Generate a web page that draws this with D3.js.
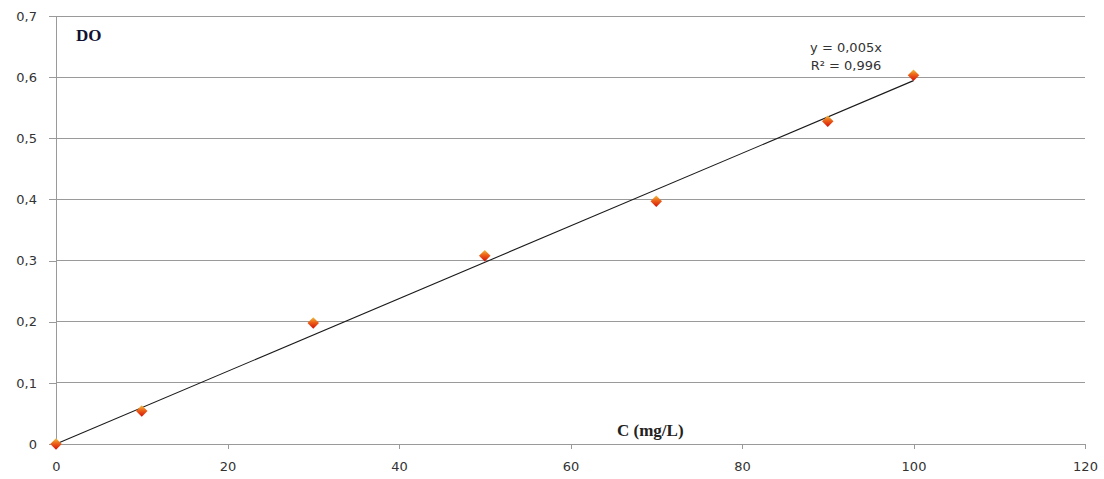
<!DOCTYPE html>
<html><head><meta charset="utf-8">
<script src="https://cdn.jsdelivr.net/npm/d3@7"></script>
<style>body{margin:0;background:#fff;}svg{display:block;}</style>
</head><body>
<svg id="c" width="1104" height="479"></svg>
<script>
const concentrations = [0, 10, 30, 50, 70, 90, 100];
const doValues = [0, 0.054, 0.198, 0.308, 0.397, 0.528, 0.603];
const xTicks = [0, 20, 40, 60, 80, 100, 120];
const yTicks = [0, 0.1, 0.2, 0.3, 0.4, 0.5, 0.6, 0.7];
const equationLines = ["y = 0,005x", "R² = 0,996"];
const yLabel = "DO";
const xLabel = "C (mg/L)";

const svg = d3.select("#c");
const x = d3.scaleLinear().domain([0, 120]).range([56, 1085]);
const y = d3.scaleLinear().domain([0, 0.7]).range([444, 16]);
const fmt = d => String(d).replace(".", ",");
const font = "Verdana, 'DejaVu Sans', sans-serif";

// gridlines
svg.append("g").selectAll("line").data(yTicks.filter(d => d > 0)).join("line")
  .attr("x1", x(0)).attr("x2", x(120)).attr("y1", d => y(d)).attr("y2", d => y(d))
  .attr("stroke", "#9a9a9a").attr("stroke-width", 1).attr("shape-rendering", "crispEdges");

// y axis
const yAxis = svg.append("g").attr("transform", `translate(${x(0)},0)`)
  .call(d3.axisLeft(y).tickValues(yTicks).tickFormat(fmt).tickSize(7).tickPadding(12));
// x axis
const xAxis = svg.append("g").attr("transform", `translate(0,${y(0)})`)
  .call(d3.axisBottom(x).tickValues(xTicks).tickSize(5).tickPadding(13));
[yAxis, xAxis].forEach(a => {
  a.select(".domain").attr("stroke", "#9a9a9a").attr("shape-rendering", "crispEdges");
  a.selectAll(".tick line").attr("stroke", "#9a9a9a").attr("shape-rendering", "crispEdges");
  a.selectAll("text").attr("fill", "#333").style("font-family", font).style("font-size", "13px");
});
xAxis.select(".domain").attr("d", `M${x(0)},0.5H${x(120)}V5`);

// trendline (least squares through origin)
const slope = d3.sum(concentrations, (c, i) => c * doValues[i]) / d3.sum(concentrations, c => c * c);
svg.append("line")
  .attr("x1", x(0)).attr("y1", y(0))
  .attr("x2", x(d3.max(concentrations))).attr("y2", y(slope * d3.max(concentrations)))
  .attr("stroke", "#1a1a1a").attr("stroke-width", 1.1);

// gradient
const defs = svg.append("defs");
const g = defs.append("linearGradient").attr("id", "dg").attr("x1", "0").attr("y1", "0").attr("x2", "0").attr("y2", "1");
g.append("stop").attr("offset", "0%").attr("stop-color", "#f0c040");
g.append("stop").attr("offset", "40%").attr("stop-color", "#ee6a1a");
g.append("stop").attr("offset", "100%").attr("stop-color", "#d40f08");

// markers
svg.append("g").selectAll("path").data(concentrations).join("path")
  .attr("d", d3.symbol().type(d3.symbolDiamond2 || d3.symbolDiamond).size(85))
  .attr("transform", (c, i) => `translate(${x(c)},${y(doValues[i])})`)
  .attr("fill", "url(#dg)");

// labels
svg.append("text").attr("x", 76).attr("y", 41).text(yLabel)
  .style("font-family", "'Liberation Serif', 'Times New Roman', serif").style("font-weight", "bold")
  .style("font-size", "17px").attr("fill", "#111133");
svg.append("text").attr("x", 617).attr("y", 436).text(xLabel)
  .style("font-family", "'Liberation Serif', 'Times New Roman', serif").style("font-weight", "bold")
  .style("font-size", "17px").attr("fill", "#222");
svg.append("g").selectAll("text").data(equationLines).join("text")
  .attr("x", 846).attr("y", (d, i) => 52 + i * 18).attr("text-anchor", "middle")
  .text(d => d).style("font-family", font).style("font-size", "13px").attr("fill", "#333");
</script>
</body></html>
